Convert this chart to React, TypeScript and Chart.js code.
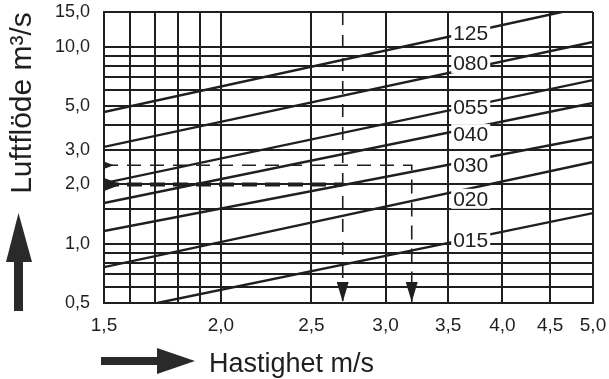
import React, { useEffect, useRef } from 'react';
import { Chart, registerables } from 'chart.js';

Chart.register(...registerables);

const FONT = '"Liberation Sans", Arial, Helvetica, sans-serif';
const INK = '#1f1f1f';

// Axis grid + tick labels
const velocityGrid = [1.5, 1.6, 1.7, 1.8, 1.9, 2.0, 2.5, 3.0, 3.5, 4.0, 4.5, 5.0];
const velocityLabels = [1.5, 2.0, 2.5, 3.0, 3.5, 4.0, 4.5, 5.0];
const flowGrid = [0.5, 0.6, 0.7, 0.8, 0.9, 1.0, 1.5, 2.0, 3.0, 4.0, 5.0, 6.0, 7.0, 8.0, 9.0, 10.0, 15.0];
const flowLabels = [0.5, 1.0, 2.0, 3.0, 5.0, 10.0, 15.0];

// Duct size lines (start and end points)
const sizes = ['015', '020', '030', '040', '055', '080', '125'];
const lineStartV = [1.71, 1.5, 1.5, 1.5, 1.5, 1.5, 1.5];
const lineStartQ = [0.5, 0.76, 1.16, 1.61, 2.03, 3.1, 4.66];
const lineEndV = [5.0, 5.0, 5.0, 5.0, 5.0, 5.0, 4.63];
const lineEndQ = [1.43, 2.6, 3.48, 5.18, 6.77, 10.56, 15.0];

// Label positions for the size labels
const labelV = [3.7, 3.7, 3.7, 3.7, 3.7, 3.7, 3.7];
const labelQ = [1.04, 1.69, 2.51, 3.6, 4.94, 8.27, 11.7];

// Example reading (dashed lines)
const exampleFlow = [2.5, 2.0];
const exampleVelocity = [3.2, 2.7];

const fmt = (v: number) => v.toFixed(1).replace('.', ',');

const decorPlugin = {
  id: 'decor',
  afterDatasetsDraw(chart: any) {
    const { ctx, scales, chartArea } = chart;
    const x = scales.x;
    const y = scales.y;
    ctx.save();
    // size labels with white boxes
    ctx.font = `21px ${FONT}`;
    ctx.textAlign = 'center';
    ctx.textBaseline = 'middle';
    sizes.forEach((s, i) => {
      const px = x.getPixelForValue(labelV[i]);
      const py = y.getPixelForValue(labelQ[i]);
      const w = ctx.measureText(s).width + 4;
      ctx.fillStyle = '#fff';
      ctx.fillRect(px - w / 2, py - 10, w, 20);
      ctx.fillStyle = INK;
      ctx.fillText(s, px, py + 1);
    });
    // down arrows at example velocities
    ctx.fillStyle = INK;
    const bottom = y.getPixelForValue(0.5);
    exampleVelocity.forEach((v) => {
      const px = x.getPixelForValue(v);
      ctx.beginPath();
      ctx.moveTo(px - 6, bottom - 21);
      ctx.lineTo(px + 6, bottom - 21);
      ctx.lineTo(px, bottom - 1);
      ctx.closePath();
      ctx.fill();
    });
    // left markers on example flows
    const left = chartArea.left;
    const p1 = y.getPixelForValue(exampleFlow[0]);
    ctx.beginPath();
    ctx.moveTo(left - 1, p1 - 4);
    ctx.lineTo(left - 1, p1 + 4);
    ctx.lineTo(left + 10, p1);
    ctx.closePath();
    ctx.fill();
    const p2 = y.getPixelForValue(exampleFlow[1]);
    ctx.beginPath();
    ctx.moveTo(left - 1, p2 - 7);
    ctx.lineTo(left - 1, p2 + 7);
    ctx.lineTo(left + 17, p2);
    ctx.closePath();
    ctx.fill();
    ctx.restore();
  },
  afterDraw(chart: any) {
    const { ctx } = chart;
    ctx.save();
    ctx.fillStyle = '#2a2a2a';
    // up arrow
    ctx.fillRect(14, 260, 9, 51);
    ctx.beginPath();
    ctx.moveTo(6, 262);
    ctx.lineTo(32, 262);
    ctx.lineTo(18.5, 213);
    ctx.closePath();
    ctx.fill();
    // right arrow
    ctx.fillRect(101, 357, 58, 8);
    ctx.beginPath();
    ctx.moveTo(157, 348);
    ctx.lineTo(157, 374);
    ctx.lineTo(195, 361);
    ctx.closePath();
    ctx.fill();
    // titles
    ctx.fillStyle = INK;
    ctx.font = `27px ${FONT}`;
    ctx.textAlign = 'left';
    ctx.textBaseline = 'alphabetic';
    ctx.fillText('Hastighet m/s', 209, 372);
    ctx.font = `30px ${FONT}`;
    ctx.translate(31, 103);
    ctx.rotate(-Math.PI / 2);
    ctx.textAlign = 'center';
    ctx.fillText('Luftflöde m³/s', 0, 0);
    ctx.restore();
  },
};

const zeroPad = (s: any) => {
  s.paddingLeft = 0;
  s.paddingRight = 0;
  s.paddingTop = 0;
  s.paddingBottom = 0;
};

export default function App() {
  const ref = useRef<HTMLCanvasElement | null>(null);
  useEffect(() => {
    if (!ref.current) return;
    const lineSets = sizes.map((s, i) => ({
      label: s,
      data: [
        { x: lineStartV[i], y: lineStartQ[i] },
        { x: lineEndV[i], y: lineEndQ[i] },
      ],
      borderColor: INK,
      borderWidth: 2.4,
      pointRadius: 0,
      showLine: true,
      fill: false,
    }));
    const dashed = [
      {
        label: 'ex1',
        data: [
          { x: 1.5, y: exampleFlow[0] },
          { x: exampleVelocity[0], y: exampleFlow[0] },
          { x: exampleVelocity[0], y: 0.5 },
        ],
        borderColor: INK,
        borderWidth: 1.6,
        borderDash: [14, 9],
        pointRadius: 0,
        showLine: true,
        fill: false,
      },
      {
        label: 'ex2h',
        data: [
          { x: 1.5, y: exampleFlow[1] },
          { x: exampleVelocity[1], y: exampleFlow[1] },
        ],
        borderColor: INK,
        borderWidth: 4,
        borderDash: [15, 8],
        pointRadius: 0,
        showLine: true,
        fill: false,
      },
      {
        label: 'ex2v',
        data: [
          { x: exampleVelocity[1], y: 15 },
          { x: exampleVelocity[1], y: 0.5 },
        ],
        borderColor: INK,
        borderWidth: 1.6,
        borderDash: [13, 10],
        pointRadius: 0,
        showLine: true,
        fill: false,
      },
    ];
    const chart = new Chart(ref.current, {
      type: 'scatter',
      data: { datasets: [...lineSets, ...dashed] as any },
      plugins: [decorPlugin],
      options: {
        responsive: false,
        devicePixelRatio: 1,
        animation: false,
        layout: { padding: { top: 12, right: 16, left: 0, bottom: 0 } },
        plugins: { legend: { display: false }, tooltip: { enabled: false } },
        scales: {
          x: {
            type: 'logarithmic',
            min: 1.5,
            max: 5,
            position: 'bottom',
            grid: { color: INK, lineWidth: 2, drawTicks: false },
            border: { color: INK, width: 2 },
            ticks: {
              autoSkip: false,
              maxRotation: 0,
              minRotation: 0,
              padding: 11,
              color: INK,
              font: { size: 19, family: FONT },
              callback: (v: any) => (velocityLabels.includes(Number(v)) ? fmt(Number(v)) : ''),
            },
            afterBuildTicks: (s: any) => {
              s.ticks = velocityGrid.map((v) => ({ value: v }));
            },
            afterFit: (s: any) => {
              s.height = 76;
              zeroPad(s);
            },
          },
          y: {
            type: 'logarithmic',
            min: 0.5,
            max: 15,
            position: 'left',
            grid: { color: INK, lineWidth: 2, drawTicks: false },
            border: { color: INK, width: 2 },
            ticks: {
              autoSkip: false,
              padding: 14,
              color: INK,
              font: { size: 18, family: FONT },
              callback: (v: any) => (flowLabels.includes(Number(v)) ? fmt(Number(v)) : ''),
            },
            afterBuildTicks: (s: any) => {
              s.ticks = flowGrid.map((v) => ({ value: v }));
            },
            afterFit: (s: any) => {
              s.width = 104;
              zeroPad(s);
            },
          },
        },
      } as any,
    });
    return () => chart.destroy();
  }, []);
  return (
    <div style={{ position: 'fixed', left: 0, top: 0, width: 609, height: 379, background: '#fff' }}>
      <canvas ref={ref} width={609} height={379} style={{ display: 'block' }} />
    </div>
  );
}
